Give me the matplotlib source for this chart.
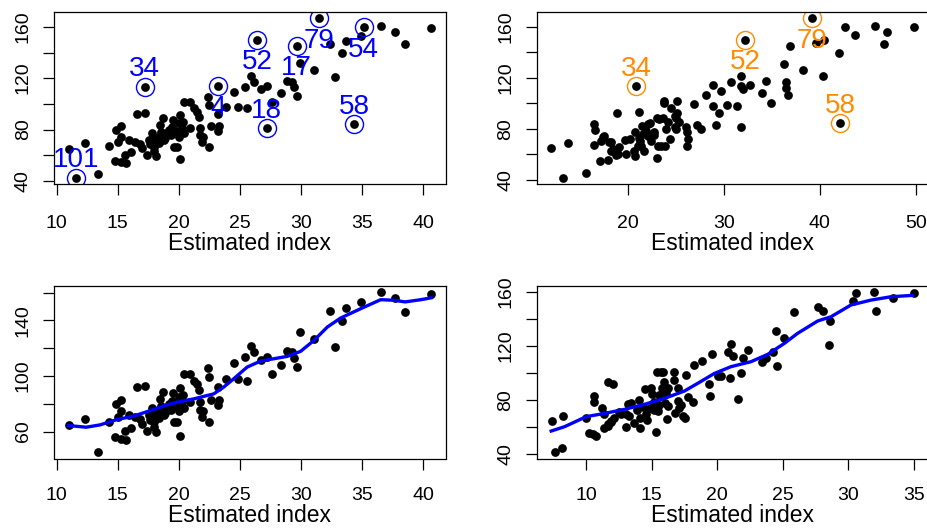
import numpy as np
import matplotlib.pyplot as plt

plt.rcParams['font.family'] = ['Liberation Sans', 'DejaVu Sans']

# panel 1 / 3 : first estimated index, points that are not flagged
x1 = [10.96, 12.35, 13.36, 14.24, 14.84, 15.22, 14.79, 15.25, 15.69, 14.98,
      15.25, 15.6, 15.88, 16.1, 16.43, 16.56, 17.19, 17.38, 16.97, 17.52,
      17.79, 17.93, 18.15, 18.07, 18.26, 18.42, 18.7, 18.56, 18.75, 18.97,
      19.16, 19.35, 19.52, 19.57, 19.84, 19.98, 20.06, 19.98, 20.25, 20.12,
      20.39, 20.94, 20.45, 20.94, 21.21, 21.48, 21.62, 21.7, 21.7, 21.98,
      21.87, 22.44, 22.36, 22.44, 22.66, 23.18, 23.32, 23.23, 23.89, 24.49,
      24.85, 25.37, 25.59, 25.91, 26.13, 26.68, 27.23, 27.64, 28.32, 28.82,
      29.29, 29.43, 29.7, 29.91, 31.06, 32.37, 32.75, 33.38, 33.65, 34.94,
      36.58, 37.67, 38.52, 40.68, 17.6, 18.4, 18.9, 19.4, 19.8, 20.3,
      16.8, 18.0]
y1 = [64.9, 69.3, 45.2, 67.2, 79.7, 83.0, 55.8, 54.5, 53.7, 70.6,
      74.5, 60.2, 71.9, 62.8, 70.6, 91.8, 92.6, 60.2, 65.4, 71.9,
      77.1, 66.7, 59.4, 71.9, 74.5, 83.5, 88.7, 78.4, 71.9, 77.1,
      79.7, 75.8, 87.4, 66.7, 66.7, 74.5, 91.3, 84.8, 81.0, 56.8,
      101.7, 101.7, 77.1, 81.0, 96.5, 93.9, 90.0, 81.0, 75.8, 74.5,
      70.6, 66.7, 105.6, 99.1, 82.8, 91.8, 82.8, 79.1, 97.8, 109.5,
      97.8, 113.4, 96.5, 121.6, 117.2, 111.3, 113.9, 101.7, 108.2, 118.0,
      117.2, 112.8, 106.1, 131.5, 126.3, 146.5, 121.1, 139.3, 149.1, 153.0,
      160.5, 156.1, 146.3, 159.2, 68.5, 69.5, 73.5, 82.0, 78.5, 86.0,
      69.0, 63.0]
# flagged observations in panel 1
out1_lab = ['101', '34', '4', '52', '18', '17', '79', '54', '58']
out1_x = [11.6, 17.19, 23.2, 26.41, 27.2, 29.65, 31.5, 35.13, 34.36]
out1_y = [42.5, 113.4, 114.2, 149.5, 81.1, 145.3, 166.6, 159.6, 84.0]
out1_up = [True, True, False, False, True, False, False, False, True]

# smooth in panel 3
fit3_x = [10.96, 12.41, 13.55, 14.92, 16.29, 17.66, 19.02, 20.12, 21.21, 22.85,
          23.67, 24.49, 25.59, 26.68, 27.77, 28.87, 29.96, 31.06, 32.15, 33.24,
          34.88, 36.52, 37.62, 38.52, 39.81, 40.68]
fit3_y = [64.3, 63.1, 64.8, 68.6, 71.1, 75.1, 79.2, 81.6, 83.5, 87.1,
          92.0, 98.0, 106.4, 110.7, 112.4, 114.1, 117.7, 125.6, 135.2, 141.7,
          148.4, 154.9, 154.5, 153.3, 154.9, 156.3]

# panel 2 : second estimated index
x2 = [12.05, 13.26, 13.78, 15.63, 16.49, 16.6, 16.49, 17.08, 17.19, 17.53,
      17.95, 18.23, 18.23, 18.85, 18.75, 19.1, 19.69, 19.79, 20.21, 20.76,
      20.66, 20.73, 21.18, 21.18, 21.35, 21.53, 21.7, 21.88, 22.15, 22.33,
      22.74, 23.09, 23.09, 23.16, 23.72, 23.78, 23.89, 23.96, 24.2, 24.41,
      24.55, 24.9, 25.1, 25.17, 24.9, 26.04, 26.22, 26.28, 26.22, 26.91,
      27.26, 27.67, 28.16, 28.92, 28.92, 29.17, 29.51, 29.69, 30.31, 30.73,
      31.42, 31.77, 31.84, 31.84, 32.05, 32.71, 33.96, 34.44, 34.9, 36.28,
      36.46, 36.46, 36.7, 36.91, 38.26, 39.61, 40.45, 40.38, 42.01, 42.64,
      43.68, 45.73, 46.98, 46.7, 49.76, 17.4, 18.02, 18.44, 18.96, 21.04,
      21.25, 21.56, 22.08, 22.43, 22.77, 23.3, 23.82, 23.47, 25.03, 25.38,
      25.03]
y2 = [64.9, 41.6, 68.8, 45.2, 83.5, 79.1, 67.2, 54.3, 70.6, 74.5,
      55.8, 69.8, 62.8, 92.1, 59.4, 65.4, 71.4, 60.2, 71.9, 58.9,
      62.8, 77.6, 93.1, 72.4, 66.7, 82.2, 62.8, 78.4, 74.5, 84.3,
      77.1, 56.8, 88.7, 66.7, 88.7, 101.7, 66.7, 79.7, 85.4, 71.9,
      96.5, 90.0, 101.7, 92.6, 81.0, 81.0, 77.1, 71.9, 66.7, 99.1,
      82.8, 79.7, 106.1, 113.9, 97.8, 82.8, 92.1, 109.5, 98.3, 116.5,
      97.8, 81.0, 121.1, 113.4, 110.8, 113.9, 108.2, 117.2, 99.9, 131.0,
      116.5, 112.1, 106.1, 145.2, 126.3, 146.8, 149.4, 121.1, 139.3, 159.5,
      153.5, 160.5, 156.1, 146.3, 159.5, 73.2, 69.3, 64.1, 60.2, 66.7,
      70.6, 75.8, 83.5, 70.6, 75.2, 87.4, 100.4, 66.2, 88.7, 84.9,
      79.7]
out2_lab = ['34', '52', '79', '58']
out2_x = [20.9, 32.22, 39.24, 42.12]
out2_y = [113.4, 149.6, 166.5, 84.1]
out2_up = [True, False, False, True]

# panel 4 : re-estimated index without the flagged points
x4 = [7.38, 7.64, 8.17, 8.22, 10.0, 10.2, 10.5, 10.76, 10.56, 10.56,
      11.22, 11.35, 11.35, 11.7, 11.7, 12.08, 11.9, 12.1, 12.54, 12.67,
      13.0, 13.18, 13.43, 13.3, 13.68, 13.89, 14.07, 14.12, 14.32, 14.45,
      14.57, 14.65, 14.83, 14.95, 15.03, 15.2, 15.34, 15.39, 15.72, 15.46,
      15.59, 15.59, 15.77, 15.84, 15.97, 16.1, 16.17, 16.27, 16.27, 16.73,
      16.73, 16.99, 16.99, 16.78, 17.11, 17.24, 17.37, 17.55, 17.62, 17.8,
      18.13, 18.21, 18.82, 19.35, 19.45, 19.58, 20.04, 20.29, 20.8, 21.05,
      21.2, 20.98, 21.56, 21.81, 21.94, 22.32, 23.41, 23.72, 24.23, 24.48,
      24.53, 25.07, 25.83, 27.66, 28.04, 28.55, 28.6, 30.33, 30.58, 31.93,
      32.1, 33.37, 34.97, 11.68, 11.93, 13.0, 14.0, 15.2, 16.0]
y4 = [64.6, 41.5, 44.9, 68.5, 67.0, 56.0, 54.8, 53.5, 83.0, 78.8,
      73.9, 69.5, 59.2, 60.9, 93.1, 91.6, 64.1, 66.6, 71.0, 69.5,
      59.9, 76.9, 78.1, 68.5, 62.9, 72.7, 59.7, 66.6, 75.2, 88.2,
      69.5, 65.3, 73.9, 88.7, 84.3, 78.8, 56.7, 101.0, 101.0, 72.0,
      83.8, 76.4, 88.7, 101.0, 93.1, 85.0, 66.1, 75.9, 88.7, 101.0,
      94.8, 89.2, 79.3, 70.2, 73.9, 76.4, 68.5, 67.0, 98.5, 82.5,
      78.8, 105.9, 108.8, 91.6, 83.0, 113.8, 98.0, 98.0, 115.7, 121.1,
      112.8, 96.6, 80.8, 99.8, 110.8, 117.0, 107.9, 110.8, 115.7, 131.0,
      105.4, 126.1, 144.7, 148.9, 145.7, 120.7, 138.4, 153.1, 158.8, 159.5,
      145.7, 155.6, 158.8, 62.1, 64.6, 70.0, 80.0, 73.0, 78.0]
fit4_x = [7.33, 8.35, 10.0, 11.4, 12.92, 14.45, 15.97, 17.49, 18.51, 19.78,
          21.05, 22.58, 23.85, 25.12, 26.13, 27.66, 28.67, 30.2, 31.72, 33.25,
          34.9]
fit4_y = [57.2, 60.4, 67.8, 70.2, 73.2, 76.9, 81.3, 86.7, 92.4, 99.7,
          104.7, 108.4, 113.8, 121.9, 129.3, 138.4, 141.5, 150.2, 153.8, 156.3,
          157.3]

W, H = 927, 529
DOT = 6.3
fig = plt.figure(figsize=(W / 100, H / 100), dpi=100)


def box(l, t, r, b):
    return fig.add_axes([l / W, 1 - b / H, (r - l) / W, (b - t) / H])


def style(ax, xticks, yticks, ylab, xpad=14, lpad=0.5):
    ax.margins(0.04)
    ax.set_xticks(xticks)
    ax.set_yticks(yticks)
    ax.set_yticklabels([str(v) if v in ylab else '' for v in yticks])
    ax.tick_params(direction='out', length=8, width=0.9, labelsize=14, colors='black')
    ax.tick_params(axis='x', pad=xpad)
    ax.tick_params(axis='y', pad=8)
    for t in ax.get_yticklabels():
        t.set_rotation(90)
        t.set_va('center')
    for s in ax.spines.values():
        s.set_linewidth(0.9)
    ax.set_xlabel('Estimated index', fontsize=16.5, labelpad=lpad)


def flagged(ax, xs, ys, labs, ups, col):
    ax.plot(xs, ys, 'o', ms=DOT, color='black', mew=0)
    ax.plot(xs, ys, 'o', ms=13, mfc='none', mec=col, mew=1.0)
    for x, y, s, up in zip(xs, ys, labs, ups):
        ax.annotate(s, (x, y), xytext=(0, 7.5 if up else -21), textcoords='offset points',
                    ha='center', va='baseline', fontsize=20, color=col)


ax1 = box(54, 12, 446, 184)
ax1.plot(x1, y1, 'o', ms=DOT, color='black', mew=0)
flagged(ax1, out1_x, out1_y, out1_lab, out1_up, 'blue')
style(ax1, range(10, 41, 5), range(40, 161, 20), [40, 80, 120, 160])

ax2 = box(536.7, 12, 928, 184)
ax2.plot(x2, y2, 'o', ms=DOT, color='black', mew=0)
flagged(ax2, out2_x, out2_y, out2_lab, out2_up, 'darkorange')
style(ax2, range(20, 51, 10), range(40, 161, 20), [40, 80, 120, 160])

ax3 = box(54, 285.5, 446, 458.5)
ax3.plot(x1, y1, 'o', ms=DOT, color='black', mew=0)
ax3.plot(fit3_x, fit3_y, color='blue', lw=2.4)
style(ax3, range(10, 41, 5), range(60, 161, 20), [60, 100, 140], xpad=12.5, lpad=0)

ax4 = box(536.7, 286, 928, 458.7)
ax4.plot(x4, y4, 'o', ms=DOT, color='black', mew=0)
ax4.plot(fit4_x, fit4_y, color='blue', lw=2.4)
style(ax4, range(10, 36, 5), range(40, 161, 20), [40, 80, 120, 160], xpad=12.5, lpad=0)

fig.savefig('out.png', dpi=100)
